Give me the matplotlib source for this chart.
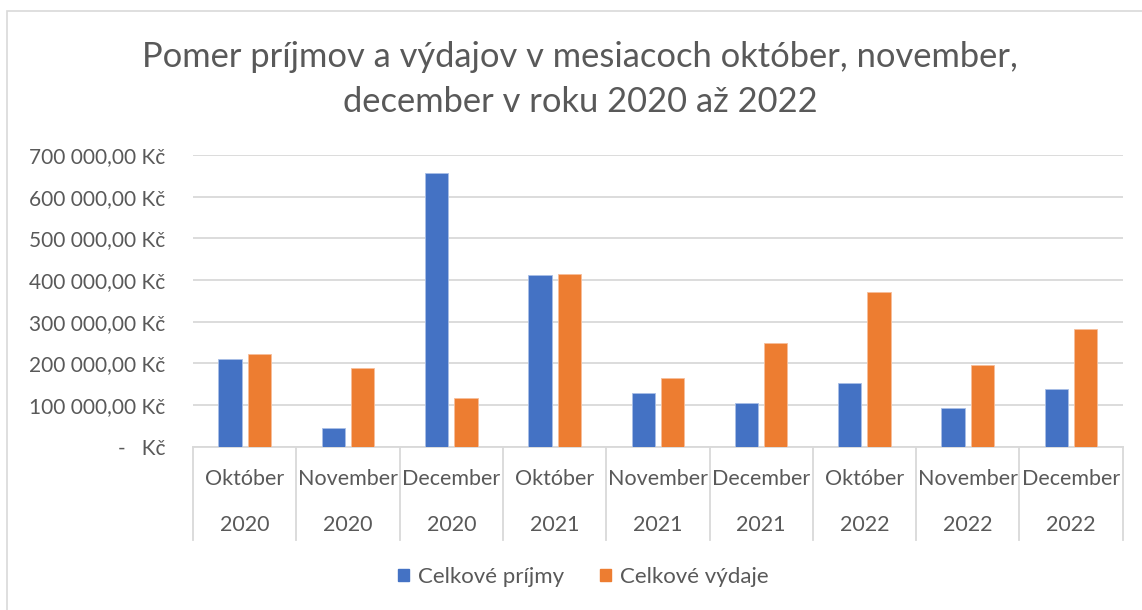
import matplotlib.pyplot as plt
import matplotlib.transforms as mtransforms
from matplotlib.patches import Rectangle, Patch
import numpy as np

plt.rcParams['font.family'] = ['Lato', 'DejaVu Sans']

months = ['Október', 'November', 'December'] * 3
years = ['2020'] * 3 + ['2021'] * 3 + ['2022'] * 3
prijmy = [211000, 44000, 658000, 411000, 130000, 104000, 154000, 92000, 139000]
vydaje = [222000, 188000, 116000, 415000, 164000, 248000, 371000, 195000, 282000]
yticks = [0, 100000, 200000, 300000, 400000, 500000, 600000, 700000]

txt = '#595959'
grid = '#D9D9D9'
blue = '#4472C4'
orange = '#ED7D31'

fig = plt.figure(figsize=(11.42, 6.10), dpi=100)
fig.patches.append(Rectangle((7 / 1142, -0.1), 1.2, 1.1 - 11 / 610, transform=fig.transFigure,
                             fill=False, edgecolor=grid, linewidth=1.2))

ax = fig.add_axes([193 / 1142, 1 - 446.7 / 610, (1122.7 - 193) / 1142, (446.7 - 155) / 610])

x = np.arange(len(months))
w = 0.225
ax.bar(x - 0.142, prijmy, w, color=blue, edgecolor='#A9BEE6', linewidth=0.6, label='Celkové príjmy', zorder=3)
ax.bar(x + 0.142, vydaje, w, color=orange, edgecolor='#F7BE9A', linewidth=0.6, label='Celkové výdaje', zorder=3)

ax.set_xlim(-0.5, len(months) - 0.5)
ax.set_ylim(0, 700000)
ax.set_yticks(yticks)


def fmt(v):
    if v == 0:
        return '-   Kč'
    return f'{v:,.2f}'.replace(',', ' ').replace('.', ',') + ' Kč'


ax.set_yticklabels([fmt(v) for v in yticks], fontsize=15, color=txt)
ax.tick_params(axis='y', length=0, pad=20)
ax.set_xticks([])
ax.grid(axis='y', color=grid, linewidth=1.3, zorder=0)
for s in ['top', 'right', 'left']:
    ax.spines[s].set_visible(False)
ax.spines['bottom'].set_color(grid)
ax.spines['bottom'].set_linewidth(1.3)

# multi-level category axis
trans = mtransforms.blended_transform_factory(ax.transData, ax.transAxes)
for sep in np.arange(-0.5, len(months), 1.0):
    ax.plot([sep, sep], [0, -0.32], transform=trans, color=grid, linewidth=1.3, clip_on=False)
for i in range(len(months)):
    ax.text(i, -0.111, months[i], transform=trans, ha='center', va='center', fontsize=15.5, color=txt)
    ax.text(i, -0.268, years[i], transform=trans, ha='center', va='center', fontsize=15.5, color=txt)

fig.text(580 / 1142, 1 - 57 / 610, 'Pomer príjmov a výdajov v mesiacoch október, november,',
         ha='center', va='center', fontsize=24.8, color=txt)
fig.text(580 / 1142, 1 - 102 / 610, 'december v roku 2020 až 2022',
         ha='center', va='center', fontsize=24.8, color=txt)

handles = [Patch(color=blue), Patch(color=orange)]
fig.legend(handles, ['Celkové príjmy', 'Celkové výdaje'], loc='center', bbox_to_anchor=(583 / 1142, 1 - 577 / 610),
           ncol=2, frameon=False, fontsize=16, labelcolor=txt, handlelength=0.5, handleheight=0.5,
           handletextpad=0.4, columnspacing=1.6)

fig.savefig('out.png', dpi=100)
